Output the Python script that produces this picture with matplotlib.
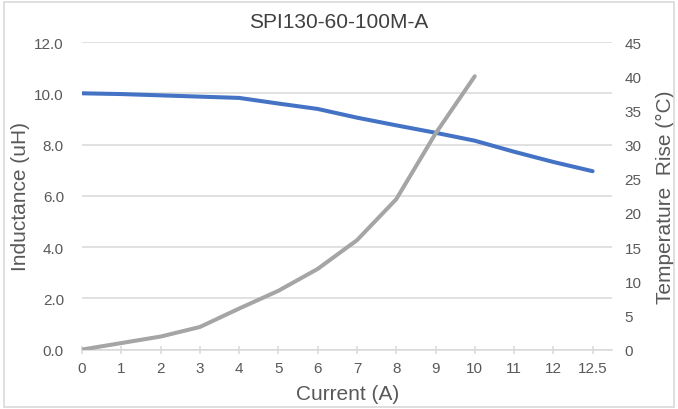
import matplotlib.pyplot as plt
from matplotlib.patches import Rectangle

current_labels = ["0", "1", "2", "3", "4", "5", "6", "7", "8", "9",
                  "10", "11", "12", "12.5"]
inductance = [10.0, 9.97, 9.92, 9.87, 9.82, 9.6, 9.39, 9.05, 8.75, 8.46,
              8.15, 7.72, 7.32, 6.96]
temp_rise = [0.0, 0.95, 1.9, 3.3, 6.0, 8.6, 11.8, 16.0, 22.0, 31.6, 40.0]

TEXT = "#595959"
GRID = "#D9D9D9"

plt.rcParams["font.family"] = ["Liberation Sans", "DejaVu Sans"]

fig = plt.figure(figsize=(6.78, 4.10), dpi=100)
fig.patch.set_facecolor("white")
fig.patches.append(Rectangle((0.006, 0.006), 0.988, 0.986, transform=fig.transFigure,
                             fill=False, edgecolor=GRID, linewidth=1.2))

ax = fig.add_axes([0.121, 0.145, 0.782, 0.750])
ax2 = ax.twinx()

x_ind = list(range(len(current_labels)))
x_temp = list(range(len(temp_rise)))

ax.plot(x_ind, inductance, color="#4472C4", linewidth=2.9,
        solid_joinstyle="round", solid_capstyle="round", zorder=3)
ax2.plot(x_temp, temp_rise, color="#A5A5A5", linewidth=2.9,
         solid_joinstyle="round", solid_capstyle="round", zorder=3)

ax.set_xlim(0, 13.5)
ax.set_ylim(0, 12)
ax2.set_ylim(0, 45)

ax.set_yticks([0, 2, 4, 6, 8, 10, 12])
ax.set_yticklabels([f"{v:.1f}" for v in [0, 2, 4, 6, 8, 10, 12]])
ax2.set_yticks(range(0, 50, 5))
ax.set_xticks(x_ind)
ax.set_xticklabels(current_labels)

ax.grid(axis="y", color=GRID, linewidth=1.1)
ax.set_axisbelow(True)
for a in (ax, ax2):
    for s in a.spines.values():
        s.set_visible(False)
ax.spines["bottom"].set_visible(True)
ax.spines["bottom"].set_color(GRID)
ax.spines["bottom"].set_linewidth(1.1)

ax.tick_params(axis="x", direction="inout", length=6, width=1.1, color=GRID,
               labelcolor=TEXT, labelsize=11, pad=5)
ax.tick_params(axis="y", length=0, labelcolor=TEXT, labelsize=11, pad=13)
ax2.tick_params(axis="y", length=0, labelcolor=TEXT, labelsize=11, pad=9)

ax.set_xlabel("Current (A)", fontsize=15, color=TEXT, labelpad=7)
ax.set_ylabel("Inductance (uH)", fontsize=15, color=TEXT, labelpad=3)
ax2.set_ylabel("Temperature  Rise (°C)", fontsize=15, color=TEXT, labelpad=10)

fig.text(0.5, 1 - 22 / 410, "SPI130-60-100M-A", ha="center", va="center",
         fontsize=15, color="#404040")

fig.savefig("out.png", dpi=100)
